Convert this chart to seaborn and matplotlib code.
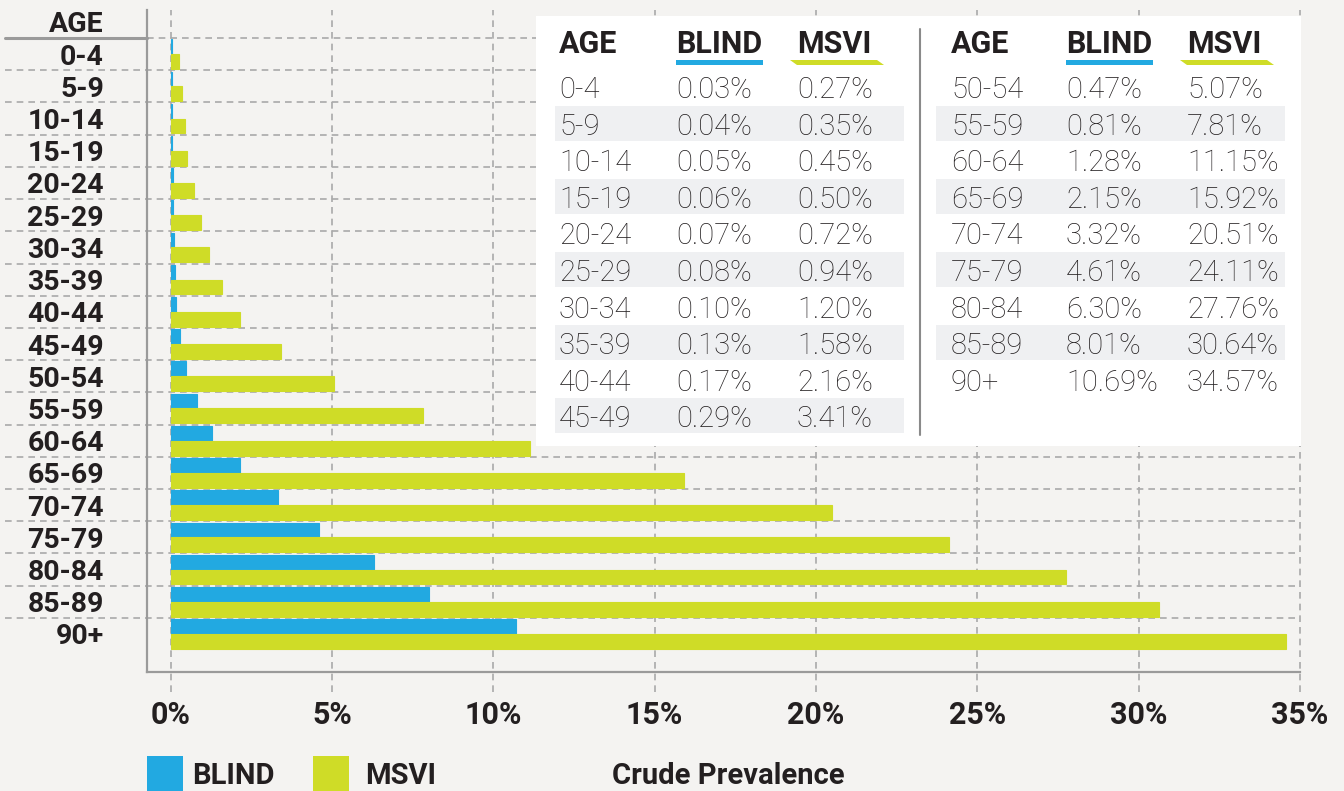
import numpy as np
import pandas as pd
import seaborn as sns
import matplotlib.pyplot as plt
from matplotlib.patches import Rectangle, Polygon

ages = ['0-4', '5-9', '10-14', '15-19', '20-24', '25-29', '30-34', '35-39', '40-44', '45-49',
        '50-54', '55-59', '60-64', '65-69', '70-74', '75-79', '80-84', '85-89', '90+']
blind = [0.03, 0.04, 0.05, 0.06, 0.07, 0.08, 0.10, 0.13, 0.17, 0.29,
         0.47, 0.81, 1.28, 2.15, 3.32, 4.61, 6.30, 8.01, 10.69]
msvi = [0.27, 0.35, 0.45, 0.50, 0.72, 0.94, 1.20, 1.58, 2.16, 3.41,
        5.07, 7.81, 11.15, 15.92, 20.51, 24.11, 27.76, 30.64, 34.57]
series = ['BLIND', 'MSVI']
x_ticks = [0, 5, 10, 15, 20, 25, 30, 35]

BG = '#f4f3f1'
BLUE = '#22a9e1'
GREEN = '#cfdc27'
INK = '#231f20'
GRID = '#a9a9a9'
W, H = 1344, 791

sns.set_style('white')
plt.rcParams['font.family'] = ['Roboto', 'DejaVu Sans']

df = pd.DataFrame({
    'age': ages * 2,
    'value': blind + msvi,
    'measure': ['BLIND'] * len(ages) + ['MSVI'] * len(ages),
})

fig = plt.figure(figsize=(W / 100, H / 100), dpi=100, facecolor=BG)
ax = fig.add_axes([147 / W, 1 - 672 / H, 1153 / W, 662 / H])
ax.set_facecolor(BG)

sns.barplot(data=df, y='age', x='value', hue='measure', orient='h', order=ages,
            hue_order=series, palette=[BLUE, GREEN], width=0.92, saturation=1,
            legend=False, ax=ax, zorder=2)
# thin edge in the bar's own colour so the tiny blind values still show
for p in ax.patches:
    p.set_edgecolor(p.get_facecolor())
    p.set_linewidth(0.8)

ax.set_xlim(-0.73, 35)
ax.set_ylim(19.18, -1.37)

# dashed grid, running past the axes like the original
for v in x_ticks:
    ax.axvline(v, ymin=-0.03, ymax=1, color=GRID, ls=(0, (4, 3)), lw=1.2,
               clip_on=False, zorder=0.5)
for i in range(len(ages)):
    y = i - 0.5
    if i == 0:
        ax.axhline(y, xmin=-0.123, xmax=0, color='#9a9a9a', lw=2.2, clip_on=False)
        ax.axhline(y, xmin=0, xmax=1, color=GRID, ls=(0, (4, 3)), lw=1.2, zorder=0.5)
    else:
        ax.axhline(y, xmin=-0.123, xmax=1, color=GRID, ls=(0, (4, 3)), lw=1.2,
                   clip_on=False, zorder=0.5)

for s in ['top', 'right']:
    ax.spines[s].set_visible(False)
for s in ['left', 'bottom']:
    ax.spines[s].set_color('#9a9a9a')
    ax.spines[s].set_linewidth(1.6)

ax.set_xticks(x_ticks)
ax.set_xticklabels([f'{v}%' for v in x_ticks], fontsize=22, fontweight='bold', color=INK)
ax.set_yticks(range(-1, len(ages)))
ax.set_yticklabels(['AGE'] + ages, fontsize=20.5, fontweight='bold', color=INK)
ax.tick_params(axis='x', length=0, pad=20)
ax.tick_params(axis='y', length=0, pad=31)
ax.set_xlabel('')
ax.set_ylabel('')

# table panel, drawn in pixel coords
tax = fig.add_axes([536 / W, 1 - 446 / H, 765 / W, 430 / H])
tax.set_facecolor('white')
tax.set_xlim(536, 1301)
tax.set_ylim(446, 16)
tax.set_xticks([])
tax.set_yticks([])
for s in tax.spines.values():
    s.set_visible(False)

halves = [(0, 10, (559, 676, 797), (555, 904)), (10, 19, (951, 1066, 1187), (936, 1285))]
for start, stop, cx, band in halves:
    for j, lab in enumerate(['AGE', 'BLIND', 'MSVI']):
        tax.text(cx[j], 53, lab, fontsize=22, fontweight='bold', color=INK, va='baseline')
    tax.add_patch(Rectangle((cx[1], 60), 87, 5, color=BLUE, lw=0))
    gx = cx[2] - 7
    tax.add_patch(Polygon([(gx, 60), (gx + 87, 60), (gx + 94, 65), (gx + 7, 65)],
                          closed=True, color=GREEN, lw=0))
    for k, i in enumerate(range(start, stop)):
        base = 98 + 36.6 * k
        if k % 2 == 1:
            tax.add_patch(Rectangle((band[0], base - 29), band[1] - band[0], 35,
                                    color='#eff0f2', lw=0, zorder=0))
        for x, s in zip(cx, [ages[i], f'{blind[i]:.2f}%', f'{msvi[i]:.2f}%']):
            tax.text(x, base, s, fontsize=21, fontweight='light', color=INK, va='baseline')
tax.plot([920, 920], [29, 435], color='#8a8a8a', lw=1.5)

# legend along the bottom edge
fig.patches.append(Rectangle((147 / W, 0), 36 / W, 35 / H, transform=fig.transFigure,
                             color=BLUE, lw=0))
fig.patches.append(Rectangle((313 / W, 0), 36 / W, 35 / H, transform=fig.transFigure,
                             color=GREEN, lw=0))
for x, s in [(192, series[0]), (365, series[1]), (612, 'Crude Prevalence')]:
    fig.text(x / W, 1 - 784 / H, s, fontsize=21, fontweight='bold', color=INK, va='baseline')

fig.savefig('out.png', dpi=100, facecolor=BG)
